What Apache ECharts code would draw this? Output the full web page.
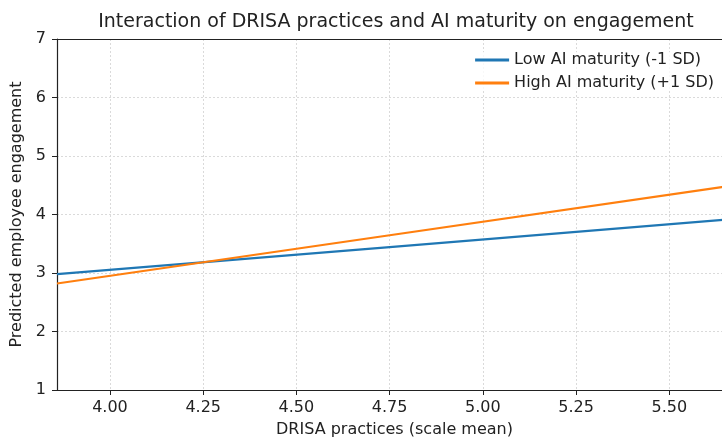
<!DOCTYPE html>
<html>
<head>
<meta charset="utf-8">
<script src="https://cdn.jsdelivr.net/npm/echarts@6/dist/echarts.min.js"></script>
<style>html,body{margin:0;padding:0;background:#fff;overflow:hidden;width:722px;height:441px}#c{width:740px;height:441px}</style>
</head>
<body>
<div id="c"></div>
<script>
const titleText = 'Interaction of DRISA practices and AI maturity on engagement';
const xName = 'DRISA practices (scale mean)';
const yName = 'Predicted employee engagement';
const seriesNames = ['Low AI maturity (-1 SD)', 'High AI maturity (+1 SD)'];
const drisaX = [3.858, 4.75, 5.668];
const lowAI = [2.98, 3.443, 3.92];
const highAI = [2.82, 3.645, 4.495];
const xTicks = [4.00, 4.25, 4.50, 4.75, 5.00, 5.25, 5.50];
const yTicks = [1, 2, 3, 4, 5, 6, 7];

const font = 'DejaVu Sans';
const fs = 16;
const chart = echarts.init(document.getElementById('c'));
chart.setOption({
  animation: false,
  textStyle: {fontFamily: font},
  title: {text: titleText, left: 391, top: 8, textAlign: 'center',
    textStyle: {fontFamily: font, fontSize: 19, fontWeight: 'normal', color: '#222'}},
  legend: {
    data: seriesNames, orient: 'vertical', right: 26, top: 52, padding: 0,
    itemWidth: 34, itemHeight: 3, itemGap: 7,
    icon: 'rect',
    backgroundColor: 'rgba(255,255,255,0.8)',
    textStyle: {fontFamily: font, fontSize: fs, color: '#222'}
  },
  grid: {left: 57, top: 39, right: 8, bottom: 51, outerBoundsMode: 'none', containLabel: false},
  xAxis: [{
    type: 'value', min: drisaX[0], max: drisaX[drisaX.length - 1],
    name: xName, nameLocation: 'middle', nameGap: 32,
    nameTextStyle: {fontFamily: font, fontSize: fs, color: '#222'},
    axisLine: {show: true, lineStyle: {color: '#222', width: 1.2}},
    axisTick: {show: true, length: 5, customValues: xTicks, lineStyle: {color: '#222'}},
    axisLabel: {customValues: xTicks, formatter: v => v.toFixed(2), fontFamily: font, fontSize: fs, color: '#222', margin: 10},
    splitLine: {show: true, lineStyle: {color: '#dadada', type: [2, 2], width: 1}}
  }, {
    type: 'value', position: 'top', min: drisaX[0], max: drisaX[drisaX.length - 1],
    axisLine: {show: true, onZero: false, lineStyle: {color: '#222', width: 1.2}},
    axisTick: {show: false}, axisLabel: {show: false}, splitLine: {show: false}
  }],
  yAxis: {
    type: 'value', min: yTicks[0], max: yTicks[yTicks.length - 1], interval: 1,
    name: yName, nameLocation: 'middle', nameGap: 25,
    nameTextStyle: {fontFamily: font, fontSize: fs, color: '#222'},
    axisLine: {show: true, lineStyle: {color: '#222', width: 1.2}},
    axisTick: {show: true, length: 5, lineStyle: {color: '#222'}},
    axisLabel: {fontFamily: font, fontSize: fs, color: '#222', margin: 11},
    splitLine: {show: true, lineStyle: {color: '#dadada', type: [2, 2], width: 1}}
  },
  series: [
    {name: seriesNames[0], type: 'line', data: drisaX.map((x, i) => [x, lowAI[i]]),
     showSymbol: false, lineStyle: {color: '#1f77b4', width: 2.2}, itemStyle: {color: '#1f77b4'}},
    {name: seriesNames[1], type: 'line', data: drisaX.map((x, i) => [x, highAI[i]]),
     showSymbol: false, lineStyle: {color: '#ff7f0e', width: 2.2}, itemStyle: {color: '#ff7f0e'}}
  ]
});
</script>
</body>
</html>
